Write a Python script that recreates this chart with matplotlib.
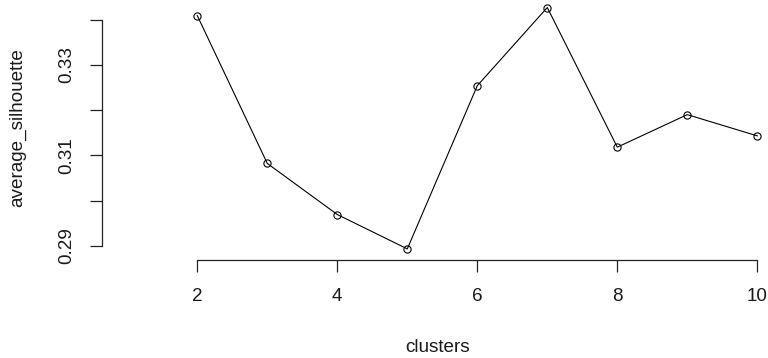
import matplotlib
matplotlib.use("Agg")
import matplotlib.pyplot as plt

clusters = [2, 3, 4, 5, 6, 7, 8, 9, 10]
average_silhouette = [0.3409, 0.3082, 0.2969, 0.2893, 0.3254, 0.3427, 0.3118, 0.3190, 0.3143]
x_ticks = [2, 4, 6, 8, 10]
y_ticks = [0.29, 0.30, 0.31, 0.32, 0.33, 0.34]
y_tick_labels = ["0.29", "", "0.31", "", "0.33", ""]

plt.rcParams['font.family'] = ['Liberation Sans', 'DejaVu Sans']
W, H, DPI = 768, 358, 100
fig = plt.figure(figsize=(W / DPI, H / DPI), dpi=DPI)

left_px, bottom_px = 102, 260
ax = fig.add_axes([left_px / W, (H - bottom_px) / H, (W - left_px) / W, bottom_px / H])

ax.plot(clusters, average_silhouette, color='black', lw=0.8, marker='o',
        markersize=5.2, markerfacecolor='none', markeredgecolor='black',
        markeredgewidth=0.8, clip_on=False)

ax.set_xlim(0.6386, 10.153)
ax.set_ylim(0.28684, 0.34436)

for s in ['top', 'right']:
    ax.spines[s].set_visible(False)
for s in ['left', 'bottom']:
    ax.spines[s].set_linewidth(0.9)
    ax.spines[s].set_color('#222222')
ax.spines['bottom'].set_bounds(x_ticks[0], x_ticks[-1])
ax.spines['left'].set_bounds(y_ticks[0], y_ticks[-1])

ax.set_xticks(x_ticks)
ax.set_xticklabels([str(v) for v in x_ticks])
ax.set_yticks(y_ticks)
ax.set_yticklabels(y_tick_labels, rotation=90, va='center')

ax.tick_params(axis='both', direction='out', length=8.4, width=0.9, color='#222222',
               labelsize=13.6, labelcolor='#1a1a1a')
ax.tick_params(axis='x', pad=12)
ax.tick_params(axis='y', pad=10.5)

fig.text(18 / W, 1 - 127.5 / H, 'average_silhouette', rotation=90, ha='center',
         va='center', fontsize=13.6, color='#1a1a1a')
fig.text(438 / W, 1 - 348 / H, 'clusters', ha='center', va='center',
         fontsize=13.6, color='#1a1a1a')

fig.savefig('out.png', dpi=DPI)
